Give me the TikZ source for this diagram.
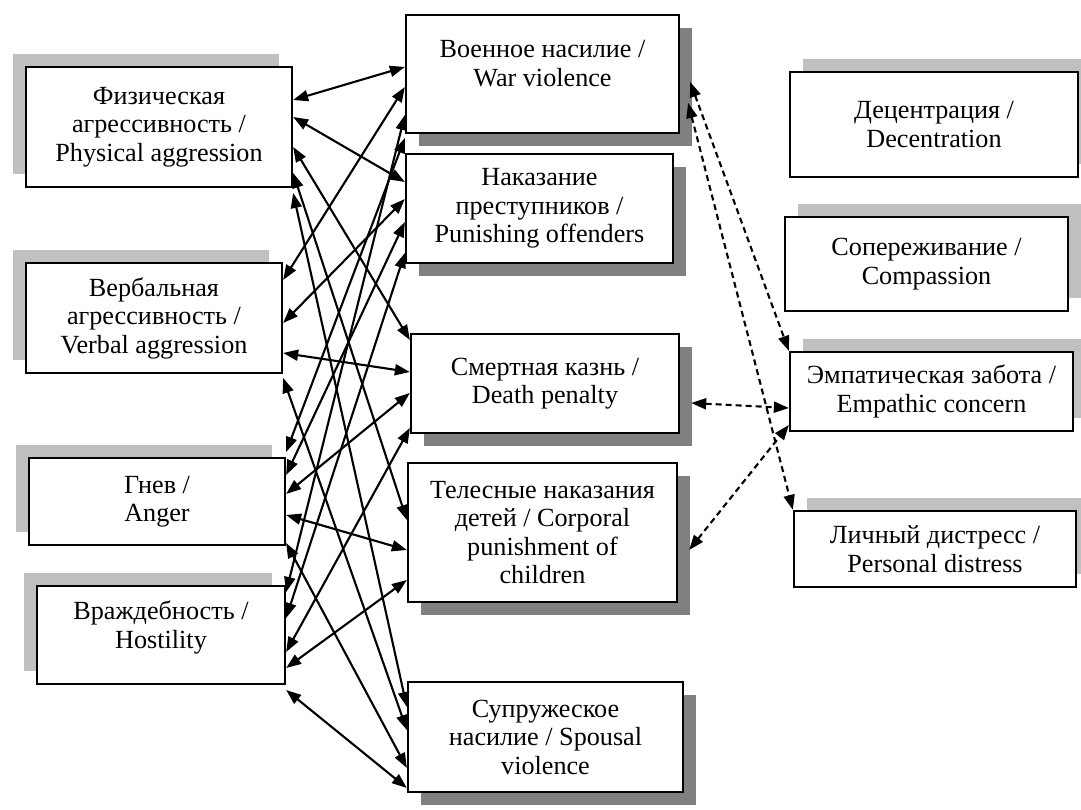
\documentclass[tikz,border=0pt]{standalone}
\usepackage{fontspec}
\setmainfont{Liberation Serif}
\usetikzlibrary{arrows.meta,shadows}

\definecolor{lightshade}{RGB}{192,192,192}
\definecolor{darkshade}{RGB}{128,128,128}

\begin{document}
\begin{tikzpicture}
    % Node styles
    \tikzstyle{box} = [rectangle, draw, line width=1.3pt, fill=white, align=center, font=\fontsize{14.9}{16.2}\selectfont]
    \tikzstyle{leftbox} = [box, general shadow={fill=lightshade, shadow xshift=-0.26cm, shadow yshift=0.26cm}]
    \tikzstyle{midbox} = [box, general shadow={fill=darkshade, shadow xshift=0.26cm, shadow yshift=-0.26cm}]
    \tikzstyle{rightbox} = [box, general shadow={fill=lightshade, shadow xshift=0.26cm, shadow yshift=0.26cm}]
    \tikzstyle{arrow} = [<->, >={Triangle[length=0.3cm,width=0.22cm]}, line width=1.2pt]
    \tikzstyle{dasharrow} = [arrow, dash pattern=on 3.4pt off 2.3pt]

    \useasboundingbox (0, 0) rectangle (21.62, 16.2);

    % Nodes
    \node (phys) at (3.18, 13.66) [leftbox, minimum width=5.32cm, minimum height=2.40cm] {Физическая\\агрессивность /\\Physical aggression};
    \node (verbal) at (3.08, 9.84) [leftbox, minimum width=5.12cm, minimum height=2.20cm] {Вербальная\\агрессивность /\\Verbal aggression};
    \node (anger) at (3.14, 6.17) [leftbox, minimum width=5.12cm, minimum height=1.74cm] {Гнев /\\Anger};
    \node (hostility) at (3.22, 3.50) [leftbox, minimum width=4.96cm, minimum height=1.96cm] {Враждебность /\\Hostility\\[-0.15cm]};

    \node (war) at (10.85, 14.72) [midbox, minimum width=5.46cm, minimum height=2.36cm] {Военное насилие /\\War violence\\[-0.15cm]};
    \node (punish) at (10.79, 12.03) [midbox, minimum width=5.34cm, minimum height=2.18cm] {Наказание\\преступников /\\Punishing offenders};
    \node (death) at (10.90, 8.53) [midbox, minimum width=5.36cm, minimum height=1.98cm] {Смертная казнь /\\Death penalty};
    \node (corporal) at (10.85, 5.55) [midbox, minimum width=5.38cm, minimum height=2.78cm] {Телесные наказания\\детей / Corporal\\punishment of\\children};
    \node (spousal) at (10.91, 1.46) [midbox, minimum width=5.50cm, minimum height=2.20cm] {Супружеское\\насилие / Spousal\\violence};

    \node (decentr) at (18.68, 13.71) [rightbox, minimum width=5.76cm, minimum height=2.10cm] {Децентрация /\\Decentration};
    \node (compass) at (18.53, 10.92) [rightbox, minimum width=5.66cm, minimum height=1.88cm] {Сопереживание /\\Compassion};
    \node (empathic) at (18.63, 8.37) [rightbox, minimum width=5.66cm, minimum height=1.58cm] {Эмпатическая забота /\\Empathic concern};
    \node (distress) at (18.70, 5.22) [rightbox, minimum width=5.64cm, minimum height=1.52cm] {Личный дистресс /\\Personal distress};

    % Arrows
    \draw[arrow] ([yshift=0.54cm]phys.east) -- ([yshift=0.14cm]war.west);
    \draw[arrow] ([yshift=0.20cm]phys.east) -- ([yshift=0.53cm]punish.west);
    \draw[arrow] ([yshift=-0.40cm]phys.east) -- ([yshift=0.87cm]death.west);
    \draw[arrow] ([yshift=-0.92cm]phys.east) -- ([yshift=0.25cm]corporal.west);
    \draw[arrow] ([yshift=-1.32cm]phys.east) -- ([yshift=0.60cm]spousal.west);

    \draw[arrow] ([yshift=0.76cm]verbal.east) -- ([yshift=-0.26cm]war.west);
    \draw[arrow] ([yshift=-0.10cm]verbal.east) -- ([yshift=0.19cm]punish.west);
    \draw[arrow] ([yshift=-0.70cm]verbal.east) -- ([yshift=0.23cm]death.west);
    \draw[arrow] ([yshift=-1.20cm]verbal.east) -- ([yshift=0.14cm]spousal.west);

    \draw[arrow] ([yshift=0.99cm]anger.east) -- ([yshift=-1.28cm]war.west);
    \draw[arrow] ([yshift=0.53cm]anger.east) -- ([yshift=-0.27cm]punish.west);
    \draw[arrow] ([yshift=0.15cm]anger.east) -- ([yshift=-0.19cm]death.west);
    \draw[arrow] ([yshift=-0.27cm]anger.east) -- ([yshift=-0.35cm]corporal.west);
    \draw[arrow] ([yshift=-0.83cm]anger.east) -- ([yshift=-0.62cm]spousal.west);

    \draw[arrow] ([yshift=0.86cm]hostility.east) -- ([yshift=-0.82cm]war.west);
    \draw[arrow] ([yshift=0.34cm]hostility.east) -- ([yshift=-0.89cm]punish.west);
    \draw[arrow] ([yshift=-0.34cm]hostility.east) -- ([yshift=-0.89cm]death.west);
    \draw[arrow] ([yshift=-0.66cm]hostility.east) -- ([yshift=-0.95cm]corporal.west);
    \draw[arrow] ([yshift=-1.10cm]hostility.east) -- ([yshift=-1.02cm]spousal.west);

    \draw[dasharrow] ([xshift=0.2cm, yshift=-0.16cm]war.east) -- (empathic.north west);
    \draw[dasharrow] ([xshift=0.16cm, yshift=-0.58cm]war.east) -- (distress.north west);
    \draw[dasharrow] ([xshift=0.22cm, yshift=-0.39cm]death.east) -- ([yshift=-0.33cm]empathic.west);
    \draw[dasharrow] ([xshift=0.22cm, yshift=-0.35cm]corporal.east) -- ([yshift=-0.67cm]empathic.west);

\end{tikzpicture}
\end{document}
